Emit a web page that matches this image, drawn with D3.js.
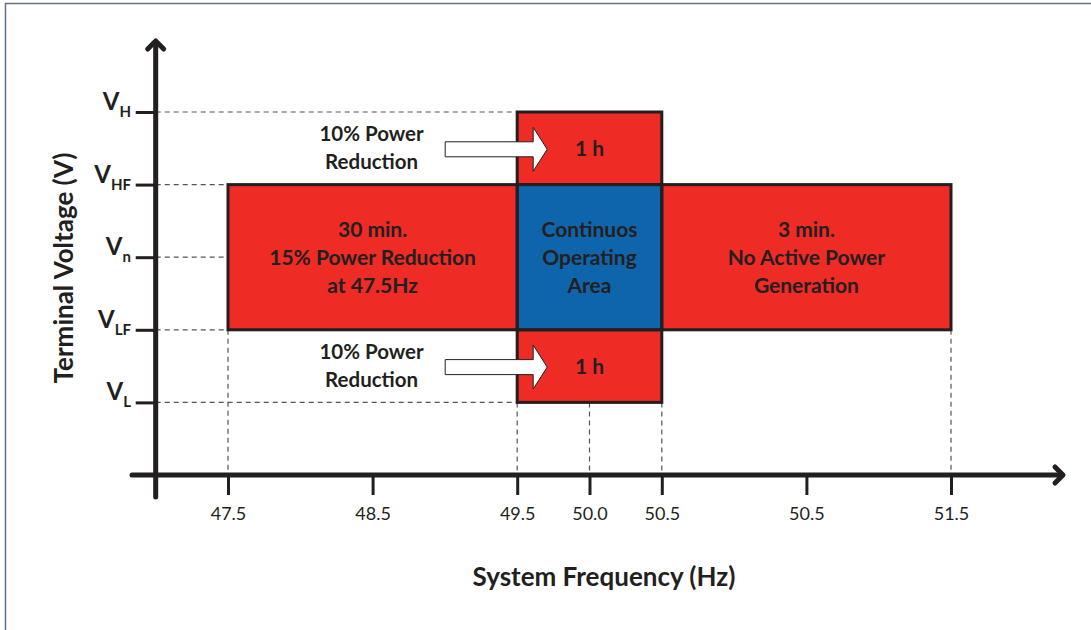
<!DOCTYPE html>
<html>
<head>
<meta charset="utf-8">
<script src="https://cdn.jsdelivr.net/npm/d3@7"></script>
<style>
  html, body { margin: 0; padding: 0; background: #fff; }
  svg { display: block; }
  text { font-family: Lato, "Open Sans", sans-serif; fill: #231F20; }
</style>
</head>
<body>
<svg id="chart" width="1091" height="630"></svg>
<script>
// ---------- data ----------
const xTickValues = [47.5, 48.5, 49.5, 50.0, 50.5, 51.5, 52.5];
const xTickLabels = ["47.5", "48.5", "49.5", "50.0", "50.5", "50.5", "51.5"];
const xDashedTicks = [47.5, 49.5, 50.0, 50.5, 52.5];

const vLevels = [1, 2, 3, 4, 5];
const vMain = ["V", "V", "V", "V", "V"];
const vSubs = ["L", "LF", "n", "HF", "H"];

const regionNames = ["left", "centre", "right", "top", "bottom"];
const regionF0 = [47.5, 49.5, 50.5, 49.5, 49.5];
const regionF1 = [49.5, 50.5, 52.5, 50.5, 50.5];
const regionV0 = [2, 2, 2, 4, 1];
const regionV1 = [4, 4, 4, 5, 2];
const regionKind = ["red", "blue", "red", "red", "red"];
const regionText = [
  ["30 min.", "15% Power Reduction", "at 47.5Hz"],
  ["Continuos", "Operating", "Area"],
  ["3 min.", "No Active Power", "Generation"],
  ["1 h"],
  ["1 h"]
];
const arrowLevels = [4.5, 1.5];
const arrowText = ["10% Power", "Reduction"];

const xTitle = "System Frequency (Hz)";
const yTitle = "Terminal Voltage (V)";

// ---------- drawing ----------
const svg = d3.select("#chart");
const ink = "#231F20";
const colors = { red: "#EE2B24", blue: "#0F65AB" };

const x = d3.scaleLinear().domain([47.5, 52.5]).range([228, 951]);
const y = d3.scaleLinear().domain([0, 5]).range([475, 112]);
const xOrigin = 47.0, yOrigin = 0;

// frame
svg.append("rect").attr("x", 5.5).attr("y", 3.5).attr("width", 1100).attr("height", 700)
  .attr("fill", "none").attr("stroke", "#5E7385").attr("stroke-width", 1.5);

// dashed guide lines
const regionLeftAt = v => {
  let best = Infinity;
  regionNames.forEach((_, i) => {
    if (v >= regionV0[i] && v <= regionV1[i]) best = Math.min(best, regionF0[i]);
  });
  return best;
};
const regionBottomAt = f => {
  let best = Infinity;
  regionNames.forEach((_, i) => {
    if (f >= regionF0[i] && f <= regionF1[i]) best = Math.min(best, regionV0[i]);
  });
  return best;
};
const guides = svg.append("g").attr("stroke", "#555").attr("stroke-width", 1.2)
  .attr("stroke-dasharray", "5,4");
vLevels.forEach(v => {
  guides.append("line").attr("x1", x(xOrigin)).attr("x2", x(regionLeftAt(v)))
    .attr("y1", y(v)).attr("y2", y(v));
});
xDashedTicks.forEach(f => {
  guides.append("line").attr("x1", x(f)).attr("x2", x(f))
    .attr("y1", y(regionBottomAt(f))).attr("y2", y(yOrigin));
});

// regions
const regs = svg.append("g");
regionNames.forEach((n, i) => {
  regs.append("rect")
    .attr("x", x(regionF0[i])).attr("y", y(regionV1[i]))
    .attr("width", x(regionF1[i]) - x(regionF0[i]))
    .attr("height", y(regionV0[i]) - y(regionV1[i]))
    .attr("fill", colors[regionKind[i]]);
});
regionNames.forEach((n, i) => {
  regs.append("rect")
    .attr("x", x(regionF0[i])).attr("y", y(regionV1[i]))
    .attr("width", x(regionF1[i]) - x(regionF0[i]))
    .attr("height", y(regionV0[i]) - y(regionV1[i]))
    .attr("fill", "none").attr("stroke", ink).attr("stroke-width", 3);
});
regionNames.forEach((n, i) => {
  const cx = (x(regionF0[i]) + x(regionF1[i])) / 2;
  const cy = (y(regionV0[i]) + y(regionV1[i])) / 2;
  const lines = regionText[i];
  const lh = 28;
  const t = regs.append("text").attr("text-anchor", "middle")
    .attr("font-weight", "bold").attr("font-size", 21);
  lines.forEach((s, k) => {
    t.append("tspan").attr("x", cx)
      .attr("y", cy + (k - (lines.length - 1) / 2) * lh + 7.5).text(s);
  });
});

// block arrows + labels
arrowLevels.forEach(v => {
  const cy = y(v) + 1;
  const tip = x(49.5) + 30, base = x(49.5) + 16, tail = x(49.5) - 72;
  const p = [[tail, cy - 7.5], [base, cy - 7.5], [base, cy - 22], [tip, cy],
             [base, cy + 22], [base, cy + 7.5], [tail, cy + 7.5]];
  svg.append("path").attr("d", d3.line()(p) + "Z")
    .attr("fill", "#fff").attr("stroke", ink).attr("stroke-width", 1);
  const t = svg.append("text").attr("text-anchor", "middle")
    .attr("font-weight", "bold").attr("font-size", 20.5);
  arrowText.forEach((s, k) => {
    t.append("tspan").attr("x", x(48.5) - 1).attr("y", y(v) + (k - 0.5) * 28 + 7).text(s);
  });
});

// x axis (ticks + labels)
const xAxis = d3.axisBottom(x).tickValues(xTickValues)
  .tickFormat((d, i) => xTickLabels[i]).tickSize(20).tickPadding(12);
const gx = svg.append("g").attr("transform", `translate(0,${y(yOrigin)})`).call(xAxis);
gx.select(".domain").remove();
gx.selectAll(".tick line").attr("stroke", ink).attr("stroke-width", 3);
gx.selectAll(".tick text").attr("font-family", "Lato, sans-serif").attr("font-size", 18)
  .attr("fill", ink);

// y axis (ticks)
const yAxis = d3.axisLeft(y).tickValues(vLevels).tickFormat("").tickSize(20);
const gy = svg.append("g").attr("transform", `translate(${x(xOrigin)},0)`).call(yAxis);
gy.select(".domain").remove();
gy.selectAll(".tick line").attr("stroke", ink).attr("stroke-width", 3);
vLevels.forEach((v, i) => {
  const t = svg.append("text").attr("text-anchor", "end").attr("font-weight", "bold")
    .attr("x", 131).attr("y", y(v) - 2);
  t.append("tspan").attr("font-size", 24).text(vMain[i]);
  t.append("tspan").attr("font-size", 15).attr("dy", 7).text(vSubs[i]);
});

// main axis lines with chevrons
const axisG = svg.append("g").attr("stroke", ink).attr("stroke-width", 5)
  .attr("stroke-linecap", "round").attr("stroke-linejoin", "round").attr("fill", "none");
axisG.append("line").attr("x1", x(xOrigin)).attr("x2", x(xOrigin)).attr("y1", 497).attr("y2", 42);
axisG.append("path").attr("d", d3.line()([[x(xOrigin) - 8, 49], [x(xOrigin), 41], [x(xOrigin) + 8, 49]]));
axisG.append("line").attr("x1", 132).attr("x2", 1062).attr("y1", y(yOrigin)).attr("y2", y(yOrigin));
axisG.append("path").attr("d", d3.line()([[1055, y(yOrigin) - 8], [1063, y(yOrigin)], [1055, y(yOrigin) + 8]]));

// titles
svg.append("text").attr("x", 604).attr("y", 586).attr("text-anchor", "middle")
  .attr("font-weight", "bold").attr("font-size", 26).text(xTitle);
svg.append("text").attr("transform", "translate(73,268) rotate(-90)").attr("text-anchor", "middle")
  .attr("font-weight", "bold").attr("font-size", 26).text(yTitle);
</script>
</body>
</html>
